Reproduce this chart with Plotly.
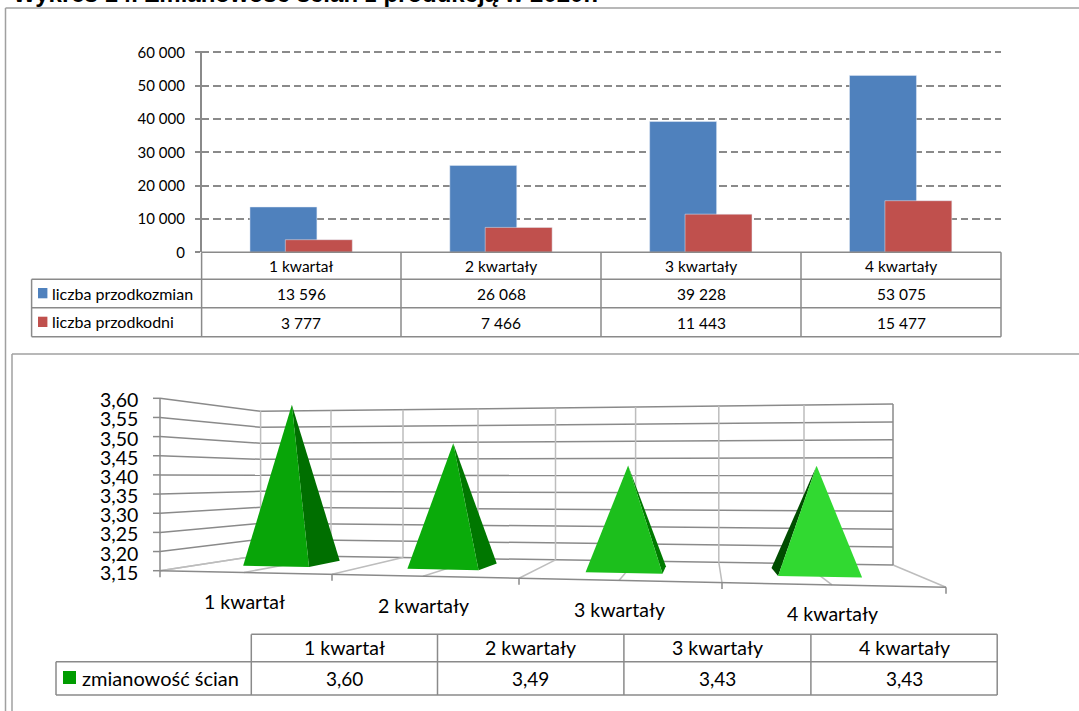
import numpy as np
import plotly.graph_objects as go

categories_top = ["1 kwartał", "2 kwartały", "3 kwartały", "4 kwartały"]
przodki_zmian = [13596, 26068, 39228, 53075]
przodki_dni = [3777, 7466, 11443, 15477]
y_ticks_top = [0, 10000, 20000, 30000, 40000, 50000, 60000]

categories_bottom = ["1 kwartał", "2 kwartały", "3 kwartały", "4 kwartały"]
zmianowosc = [3.60, 3.49, 3.43, 3.43]
y_ticks_bottom = [3.15, 3.20, 3.25, 3.30, 3.35, 3.40, 3.45, 3.50, 3.55, 3.60]

TITLE = "Wykres 14. Zmianowość ścian z produkcją w 2020r."
W, H = 1079, 711
FONT = "Lato"
LINE = "#8a8a8a"
LIGHT = "#bdbdbd"

# 3D box of the lower chart, in page pixels
U_GRID = [0, 0.5, 1, 1.5, 2, 2.5, 3, 3.5, 4]
FRONT_X = [160, 244, 332, 423, 519, 619, 722, 832, 946]
BACK_X = [260.6, 331, 403, 478, 555.5, 635.6, 718.8, 804, 893]
FRONT_Y = (570.7, 587.3)
BACK_Y = (555.3, 565.0)
FRONT_H = (172.4, 192.7)
BACK_H = (144.0, 161.0)
V_MIN, V_MAX = y_ticks_bottom[0], y_ticks_bottom[-1]

FACE_COLORS = ["#08a508", "#0aab0a", "#1cbf1c", "#31d931"]
SIDE_COLORS = ["#006f00", "#007700", "#007a00", "#004d00"]
SIDE_IS_LEFT = [False, False, False, True]


def project(u, depth, value):
    xf = np.interp(u, U_GRID, FRONT_X)
    xb = np.interp(u, U_GRID, BACK_X)
    sf = (xf - FRONT_X[0]) / (FRONT_X[-1] - FRONT_X[0])
    sb = (xb - BACK_X[0]) / (BACK_X[-1] - BACK_X[0])
    yf = FRONT_Y[0] + sf * (FRONT_Y[1] - FRONT_Y[0])
    yb = BACK_Y[0] + sb * (BACK_Y[1] - BACK_Y[0])
    hf = FRONT_H[0] + sf * (FRONT_H[1] - FRONT_H[0])
    hb = BACK_H[0] + sb * (BACK_H[1] - BACK_H[0])
    x = xf + (xb - xf) * depth
    y = yf + (yb - yf) * depth
    return x, y - (value - V_MIN) / (V_MAX - V_MIN) * (hf + (hb - hf) * depth)


def thousands(v):
    return f"{v:,}".replace(",", " ")


def decimal(v):
    return f"{v:.2f}".replace(".", ",")


def px_line(x0, y0, x1, y1, color=LINE, width=1.5):
    return dict(type="line", xref="x2", yref="y2", x0=x0, y0=y0, x1=x1, y1=y1, line=dict(color=color, width=width))


def px_rect(x0, y0, x1, y1, color):
    return dict(type="rect", xref="x2", yref="y2", x0=x0, y0=y0, x1=x1, y1=y1, fillcolor=color, line=dict(width=0))


def px_text(x, y, text, size=15.5, anchor="center", **kw):
    return dict(
        xref="x2", yref="y2", x=x, y=y, text=text, showarrow=False, xanchor=anchor, yanchor="middle",
        font=dict(family=FONT, size=size, color="#000000"), **kw,
    )


def polyline_trace(segments, color, width):
    xs, ys = [], []
    for (x0, y0), (x1, y1) in segments:
        xs += [x0, x1, None]
        ys += [y0, y1, None]
    return go.Scatter(
        x=xs, y=ys, xaxis="x2", yaxis="y2", mode="lines", line=dict(color=color, width=width),
        hoverinfo="skip", showlegend=False,
    )


def polygon_trace(points, color):
    return go.Scatter(
        x=[p[0] for p in points], y=[p[1] for p in points], xaxis="x2", yaxis="y2", mode="lines",
        fill="toself", fillcolor=color, line=dict(width=0), hoverinfo="skip", showlegend=False,
    )


fig = go.Figure()

# upper chart
fig.add_trace(go.Bar(x=categories_top, y=przodki_zmian, width=0.335, offset=-0.258, marker_color="#4f81bd", showlegend=False))
fig.add_trace(go.Bar(x=categories_top, y=przodki_dni, width=0.335, offset=-0.081, marker_color="#c0504d", showlegend=False))

# lower chart, walls and floor
wall_segments = [(project(0, 0, v), project(0, 1, v)) for v in y_ticks_bottom[1:]]
wall_segments += [(project(0, 1, v), project(4, 1, v)) for v in y_ticks_bottom]
fig.add_trace(polyline_trace(wall_segments, LINE, 1.5))
back_verticals = [(project(u, 1, V_MIN), project(u, 1, V_MAX)) for u in U_GRID[:-1]]
floor_lines = [(project(u, 0, V_MIN), project(u, 1, V_MIN)) for u in U_GRID]
floor_lines.append((project(0, 0, V_MIN), project(0, 1, V_MIN)))
fig.add_trace(polyline_trace(back_verticals + floor_lines, LIGHT, 1.5))
axis_segments = [(project(0, 0, V_MIN), project(0, 0, V_MAX)), (project(0, 0, V_MIN), project(4, 0, V_MIN))]
axis_segments.append((project(4, 1, V_MIN), project(4, 1, V_MAX)))
axis_segments += [((project(0, 0, v)[0] - 7, project(0, 0, v)[1]), project(0, 0, v)) for v in y_ticks_bottom]
axis_segments += [(project(u, 0, V_MIN), (project(u, 0, V_MIN)[0], project(u, 0, V_MIN)[1] + 6.5)) for u in range(5)]
fig.add_trace(polyline_trace(axis_segments, LINE, 1.5))

# pyramids
for i, value in enumerate(zmianowosc):
    apex = project(i + 0.5, 0.55, value)
    fl = project(i + 0.285, 0.38, V_MIN)
    fr = project(i + 0.695, 0.38, V_MIN)
    bl = project(i + 0.285, 0.76, V_MIN)
    br = project(i + 0.695, 0.76, V_MIN)
    side = [fl, bl, apex] if SIDE_IS_LEFT[i] else [fr, br, apex]
    fig.add_trace(polygon_trace(side, SIDE_COLORS[i]))
    fig.add_trace(polygon_trace([fl, fr, apex], FACE_COLORS[i]))

shapes = [
    # page frames
    px_line(5.5, 8, 5.5, H, "#a0a0a0"),
    px_line(5.5, 8, W, 8, "#a0a0a0"),
    px_line(12, 354, 12, H, "#a0a0a0"),
    px_line(12, 354, W, 354, "#a0a0a0"),
]
annotations = [
    dict(
        xref="x2", yref="y2", x=11, y=8, text=f"<b>{TITLE}</b>", showarrow=False, xanchor="left", yanchor="bottom",
        yshift=-1.5, font=dict(family="Liberation Sans", size=24, color="#000000"),
    )
]

# upper data table
top_cols = [201.6, 401, 601, 801, 1001]
top_rows = [252.3, 279.3, 307.7, 336.7]
for i, x in enumerate(top_cols):
    shapes.append(px_line(x, top_rows[0], x, top_rows[-1]))
shapes.append(px_line(top_cols[0], top_rows[0], top_cols[-1], top_rows[0]))
for y in top_rows[1:]:
    shapes.append(px_line(31.6, y, top_cols[-1], y))
shapes.append(px_line(31.6, top_rows[1], 31.6, top_rows[-1]))
for i, name in enumerate(categories_top):
    cx = (top_cols[i] + top_cols[i + 1]) / 2
    annotations.append(px_text(cx, 265.5, name))
    annotations.append(px_text(cx, 293.5, thousands(przodki_zmian[i])))
    annotations.append(px_text(cx, 322.5, thousands(przodki_dni[i])))
shapes.append(px_rect(38, 288, 47.4, 298.3, "#4f81bd"))
shapes.append(px_rect(38, 316.7, 47.4, 327, "#c0504d"))
annotations.append(px_text(49.8, 293.5, "liczba przodkozmian", size=16, anchor="left"))
annotations.append(px_text(49.8, 321.5, "liczba przodkodni", size=16, anchor="left"))

# lower axis labels
for v in y_ticks_bottom:
    annotations.append(px_text(140, project(0, 0, v)[1] + 1.5, decimal(v), size=19.5, anchor="right"))
for i, name in enumerate(categories_bottom):
    x, y = project(i + 0.5, 0, V_MIN)
    annotations.append(px_text(x, y + 29, name, size=19.5))

# lower data table
low_cols = [251.3, 437.5, 623.9, 810.9, 997.2]
low_rows = [634.3, 661.7, 695.0]
for x in low_cols:
    shapes.append(px_line(x, low_rows[0], x, low_rows[-1]))
shapes.append(px_line(low_cols[0], low_rows[0], low_cols[-1], low_rows[0]))
for y in low_rows[1:]:
    shapes.append(px_line(56, y, low_cols[-1], y))
shapes.append(px_line(56, low_rows[1], 56, low_rows[-1]))
for i, name in enumerate(categories_bottom):
    cx = (low_cols[i] + low_cols[i + 1]) / 2
    annotations.append(px_text(cx, 647.5, name, size=19.5))
    annotations.append(px_text(cx, 678.5, decimal(zmianowosc[i]), size=19))
shapes.append(px_rect(63, 671, 76, 684, "#009c00"))
annotations.append(px_text(79.7, 678, "zmianowość ścian", size=20, anchor="left"))

# 1.5 px of headroom above 60 000, plotly drops a gridline sitting right on the range end
top_headroom = 450
top_px_per_unit = 200 / 60000

fig.update_layout(
    width=W,
    height=H,
    margin=dict(l=0, r=0, t=0, b=0, autoexpand=False),
    paper_bgcolor="#ffffff",
    plot_bgcolor="rgba(0,0,0,0)",
    barmode="overlay",
    shapes=shapes,
    annotations=annotations,
    font=dict(family=FONT, color="#000000"),
    xaxis=dict(
        domain=[201.6 / W, 1001 / W],
        range=[-0.5, 3.5],
        showticklabels=False,
        ticks="",
        showgrid=False,
        zeroline=False,
    ),
    yaxis=dict(
        domain=[1 - 252.3 / H, 1 - (52.3 - top_headroom * top_px_per_unit) / H],
        range=[0, 60000 + top_headroom],
        tickvals=y_ticks_top,
        ticktext=[thousands(v) for v in y_ticks_top],
        tickfont=dict(family=FONT, size=15, color="#000000"),
        ticks="outside",
        ticklen=5,
        tickcolor=LINE,
        tickwidth=1.5,
        ticklabelstandoff=7,
        showline=True,
        linecolor=LINE,
        linewidth=1.5,
        showgrid=True,
        gridcolor=LINE,
        gridwidth=1.5,
        griddash="7.5px,4px",
        zeroline=False,
    ),
    xaxis2=dict(domain=[0, 1], range=[0, W], visible=False, anchor="y2"),
    yaxis2=dict(domain=[0, 1], range=[H, 0], visible=False, anchor="x2"),
)

fig.write_html("out.html", config={"displayModeBar": False}, post_script="document.body.style.margin='0';")
